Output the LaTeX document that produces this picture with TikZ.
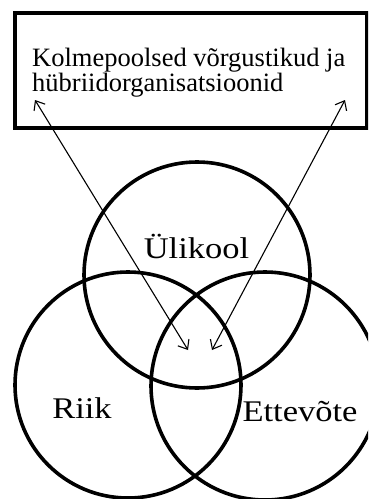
\documentclass[tikz,border=0pt]{standalone}
\usepackage{fontspec}
\setmainfont{Liberation Serif}
\newfontfamily\widefont[FakeStretch=1.15]{Liberation Serif}
\usetikzlibrary{arrows.meta}

\begin{document}
\begin{tikzpicture}[x=1pt,y=-1pt,
    ring/.style={draw, circle, line width=3.6pt, minimum size=226pt, inner sep=0pt},
    caption/.style={font=\fontsize{26.5}{27}\selectfont, inner sep=0pt},
    sector/.style={font=\widefont\fontsize{30}{31}\selectfont, inner sep=0pt},
    link/.style={line width=1.1pt, {Straight Barb[length=8pt,width=13pt]}-{Straight Barb[length=8pt,width=13pt]}}]
    \clip (0,0) rectangle (368,499);
    \useasboundingbox (0,0) rectangle (368,499);
    % box at the top
    \node[draw, line width=4pt, minimum width=352pt, minimum height=115pt, anchor=north west] (box) at (13,11) {};
    \node[caption, anchor=base west] (line1) at (32,66) {Kolmepoolsed võrgustikud ja};
    \node[caption, anchor=base west] (line2) at (32,91) {hübriidorganisatsioonid};
    % the three circles
    \node[ring] (uni) at (197,275) {};
    \node[ring] (state) at (128,385) {};
    \node[ring, minimum size=228pt] (firm) at (265,386) {};
    \node[sector, anchor=base] (unitext) at (196.5,258) {Ülikool};
    \node[sector, anchor=base] (statetext) at (82,418) {Riik};
    \node[sector, anchor=base] (firmtext) at (300,421) {Ettevõte};
    % arrows
    \coordinate (topleft) at (35,100);
    \coordinate (topright) at (345,100);
    \coordinate (midleft) at (188,350);
    \coordinate (midright) at (212,350);
    \draw[link] (topleft) -- (midleft);
    \draw[link] (topright) -- (midright);
\end{tikzpicture}
\end{document}
